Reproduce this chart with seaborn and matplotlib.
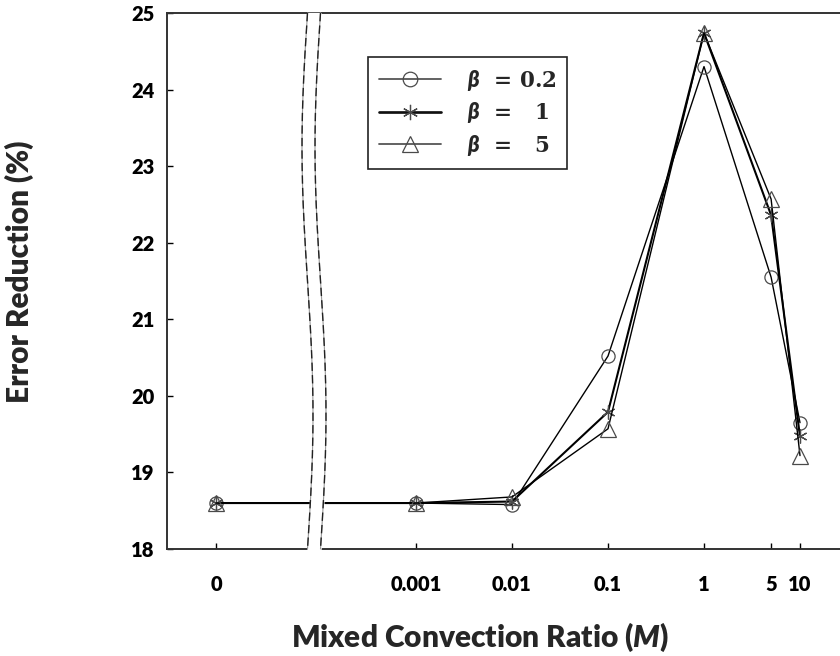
import numpy as np
import pandas as pd
import matplotlib
matplotlib.use("Agg")
import matplotlib.pyplot as plt
import seaborn as sns
from matplotlib.lines import Line2D

# Data
M_VALUES = [0, 0.001, 0.01, 0.1, 1, 5, 10]
TICK_LABELS = ["0", "0.001", "0.01", "0.1", "1", "5", "10"]
ERR_BETA_02 = [18.6, 18.6, 18.58, 20.52, 24.30, 21.55, 19.65]
ERR_BETA_1 = [18.6, 18.6, 18.62, 19.79, 24.74, 22.36, 19.47]
ERR_BETA_5 = [18.6, 18.6, 18.68, 19.57, 24.74, 22.57, 19.22]
SERIES_LABELS = [r"$\beta$  = 0.2", r"$\beta$  =   1", r"$\beta$  =   5"]

# where M = 0 sits on the log10 axis (broken axis)
ZERO_POS = -5.083
BREAK_PX = 307.5  # left edge of break, figure pixels

sns.set_theme(style="white")
plt.rcParams["font.family"] = ["Lato", "DejaVu Sans"]
plt.rcParams["mathtext.fontset"] = "custom"
plt.rcParams["mathtext.it"] = "DejaVu Serif:italic:bold"
plt.rcParams["mathtext.rm"] = "DejaVu Serif:bold"
plt.rcParams["mathtext.bf"] = "DejaVu Serif:bold"


def to_pos(m):
    return ZERO_POS if m == 0 else np.log10(m)


xpos = [to_pos(m) for m in M_VALUES]
df = pd.DataFrame({
    "x": xpos * 3,
    "err": ERR_BETA_02 + ERR_BETA_1 + ERR_BETA_5,
    "beta": [SERIES_LABELS[0]] * 7 + [SERIES_LABELS[1]] * 7 + [SERIES_LABELS[2]] * 7,
})

W, H = 840, 656
fig = plt.figure(figsize=(W / 100, H / 100), dpi=100)
ax_l, ax_r, ax_t, ax_b = 167, 840, 13, 549
ax = fig.add_axes([ax_l / W, 1 - ax_b / H, (ax_r - ax_l) / W, (ax_b - ax_t) / H])

styles = [
    dict(marker="o", ms=9.5, lw=1.0, legend_color="#555555"),
    dict(marker=(6, 2, 0), ms=10, lw=1.5, legend_color="#111111"),
    dict(marker="^", ms=11, lw=1.0, legend_color="#555555"),
]
for lab, st in zip(SERIES_LABELS, styles):
    sub = df[df["beta"] == lab]
    sns.lineplot(
        data=sub, x="x", y="err", ax=ax, estimator=None, sort=False,
        color="black", linewidth=st["lw"], marker=st["marker"],
        markersize=st["ms"], markerfacecolor="none",
        markeredgecolor="#4a4a4a", markeredgewidth=0.9, legend=False,
    )

# x range in log10 units: decade = 96 px, 0.001 at 416 px
decade = 96.0
x_left = -3 - (416 - ax_l) / decade
x_right = -3 + (ax_r - 416) / decade
ax.set_xlim(x_left, x_right)
ax.set_ylim(18, 25)
ax.set_xticks(xpos)
ax.set_xticklabels(TICK_LABELS)
ax.set_yticks(range(18, 26))

ax.tick_params(axis="x", direction="in", length=4, width=1.0, pad=19,
               labelsize=14.5, colors="black", bottom=True, top=False)
ax.tick_params(axis="y", direction="in", length=4, width=1.0, pad=9,
               labelsize=14.5, colors="black", left=True, right=False)
for t in ax.get_xticklabels() + ax.get_yticklabels():
    t.set_fontweight("heavy")

for side in ["left", "bottom", "top"]:
    ax.spines[side].set_color("#333333")
    ax.spines[side].set_linewidth(1.4)
ax.spines["right"].set_visible(False)

plt.rcParams["mathtext.it"] = "Lato:italic:heavy"
ax.set_xlabel("Mixed Convection Ratio ($\\mathit{M}$)", fontsize=21.5,
              fontweight="heavy")
ax.xaxis.set_label_coords(0.465, -0.135)
ax.set_ylabel("Error Reduction (%)", fontsize=21.5, fontweight="heavy")
ax.yaxis.set_label_coords(-0.197, 0.517)

# axis break: two wavy lines with white between
t = np.linspace(0, 1, 200)
ax_w = ax_r - ax_l
x1 = (BREAK_PX - 5.5 * np.sin(2 * np.pi * t) - ax_l) / ax_w
x2 = x1 + 13 / ax_w
ya = 1 - t
ax.fill_betweenx(ya, x1, x2, color="white", transform=ax.transAxes,
                 clip_on=False, zorder=10)
for xx in (x1, x2):
    ax.plot(xx, ya, color="#999999", lw=0.8, transform=ax.transAxes,
            clip_on=False, zorder=11)
    ax.plot(xx, ya, color="#222222", lw=1.0, ls=(0, (6, 3)),
            transform=ax.transAxes, clip_on=False, zorder=12)

# legend
handles = [
    Line2D([], [], color=st["legend_color"], lw=st["lw"] * 1.3, marker=st["marker"],
           ms=st["ms"] + 1, mfc="none", mec="#4a4a4a", mew=0.9)
    for st in styles
]
leg = ax.legend(
    handles, SERIES_LABELS, loc="upper left",
    bbox_to_anchor=((368 - ax_l) / ax_w, (ax_b - 57) / (ax_b - ax_t)),
    borderaxespad=0, frameon=True, fancybox=False, framealpha=1,
    edgecolor="#222222", handlelength=2.9, handletextpad=1.2,
    labelspacing=0.35, borderpad=0.5,
    prop={"family": "DejaVu Serif", "weight": "bold", "size": 15.5},
)
leg.get_frame().set_linewidth(1.2)
leg.set_zorder(20)

fig.savefig("out.png", dpi=100)
